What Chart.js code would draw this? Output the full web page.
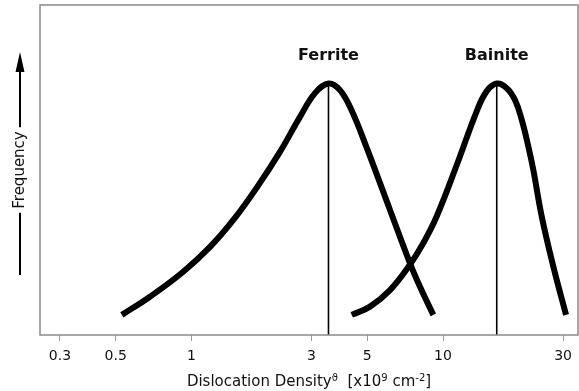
<!DOCTYPE html>
<html>
<head>
<meta charset="utf-8">
<script src="https://cdn.jsdelivr.net/npm/chart.js@4/dist/chart.umd.min.js"></script>
<style>
  html, body { margin: 0; padding: 0; background: #fff; }
  #wrap { width: 579px; height: 391px; }
</style>
</head>
<body>
<div id="wrap"><canvas id="c" width="579" height="391"></canvas></div>
<script>
// Dislocation density distributions (x in 10^9 cm^-2, y = relative frequency)
const tickValues = [0.3, 0.5, 1, 3, 5, 10, 30];

const ferriteX = [0.529, 0.684, 0.925, 1.185, 1.489, 1.838, 2.248, 2.701, 3.098, 3.505,
                  3.895, 4.347, 4.941, 6.155, 7.393, 8.100, 9.150];
const ferriteY = [6.1, 11.6, 19.1, 26.7, 35.5, 45.2, 55.5, 66.1, 73.3, 76.2,
                  74.2, 67.8, 57.3, 37.9, 21.7, 14.6, 6.1];

const bainiteX = [4.335, 5.125, 6.155, 7.278, 8.352, 9.441, 11.34, 13.61, 14.92, 16.35,
                  17.92, 19.33, 20.56, 21.84, 22.86, 24.69, 27.46, 30.84];
const bainiteY = [6.1, 8.6, 13.6, 20.6, 27.9, 36.0, 51.5, 67.8, 73.9, 76.2,
                  74.8, 71.2, 65.2, 57.1, 50.0, 35.9, 20.7, 6.1];

// Peak (mode) markers and their names
const peakNames = ['Ferrite', 'Bainite'];
const peakX = [3.505, 16.35];
const peakY = [76.2, 76.2];
const peakLabelY = 84.7;

const FAMILY = "'DejaVu Sans', 'Liberation Sans', sans-serif";
const INK = '#111';

const toPoints = (xs, ys) => xs.map((x, i) => ({ x, y: ys[i] }));

const curveStyle = {
  borderColor: '#000',
  borderWidth: 6,
  borderCapStyle: 'butt',
  borderJoinStyle: 'round',
  pointRadius: 0,
  fill: false,
  tension: 0.4
};
const markerStyle = {
  borderColor: '#000',
  borderWidth: 1.6,
  pointRadius: 0,
  fill: false,
  tension: 0
};

const datasets = [
  Object.assign({ label: 'Ferrite', data: toPoints(ferriteX, ferriteY) }, curveStyle),
  Object.assign({ label: 'Bainite', data: toPoints(bainiteX, bainiteY) }, curveStyle)
];
peakX.forEach((px, i) => {
  datasets.push(Object.assign({ label: peakNames[i] + ' mode', data: [{ x: px, y: 0 }, { x: px, y: peakY[i] }] }, markerStyle));
});

// Frame, peak names, axis-title decorations
const decorations = {
  id: 'decorations',
  afterDraw(chart) {
    const { ctx, chartArea: a, scales } = chart;
    ctx.save();

    // plot frame
    ctx.strokeStyle = '#8a8a8a';
    ctx.lineWidth = 1.5;
    ctx.strokeRect(a.left, a.top, a.right - a.left, a.bottom - a.top);

    // peak names
    ctx.fillStyle = INK;
    ctx.font = 'bold 16px ' + FAMILY;
    ctx.textAlign = 'center';
    ctx.textBaseline = 'middle';
    peakNames.forEach((name, i) => {
      ctx.fillText(name, scales.x.getPixelForValue(peakX[i]), scales.y.getPixelForValue(peakLabelY));
    });

    // arrow beside the "Frequency" title
    const ys = scales.y;
    const tOpt = ys.options.title;
    const tx = ys.left + (tOpt.font.size * 1.2) / 2 + tOpt.padding.top;
    const ty = (a.top + a.bottom) / 2;
    ctx.font = tOpt.font.size + 'px ' + FAMILY;
    const half = ctx.measureText(tOpt.text).width / 2 + 4;
    const tip = a.top + 47;
    const tail = a.bottom - 60;
    ctx.strokeStyle = '#000';
    ctx.lineWidth = 2;
    ctx.beginPath();
    ctx.moveTo(tx, tail); ctx.lineTo(tx, ty + half);
    ctx.moveTo(tx, ty - half); ctx.lineTo(tx, tip + 16);
    ctx.stroke();
    ctx.fillStyle = '#000';
    ctx.beginPath();
    ctx.moveTo(tx, tip);
    ctx.lineTo(tx - 4.5, tip + 20);
    ctx.lineTo(tx + 4.5, tip + 20);
    ctx.closePath();
    ctx.fill();

    // x-axis title with superscripts
    const parts = [
      ['Dislocation Density', 15, 0],
      ['\u03D1', 10, -5],
      ['  [x10', 15, 0],
      ['9', 10, -5],
      [' cm', 15, 0],
      ['-2', 10, -5],
      [']', 15, 0]
    ];
    let total = 0;
    parts.forEach(p => { ctx.font = p[1] + 'px ' + FAMILY; total += ctx.measureText(p[0]).width; });
    let x = (a.left + a.right) / 2 - total / 2;
    const by = 386;
    ctx.fillStyle = INK;
    ctx.textAlign = 'left';
    ctx.textBaseline = 'alphabetic';
    parts.forEach(p => {
      ctx.font = p[1] + 'px ' + FAMILY;
      ctx.fillText(p[0], x, by + p[2]);
      x += ctx.measureText(p[0]).width;
    });
    ctx.restore();
  }
};

new Chart(document.getElementById('c'), {
  type: 'line',
  data: { datasets },
  options: {
    responsive: false,
    animation: false,
    devicePixelRatio: 1,
    parsing: true,
    layout: { padding: { top: 5, right: 1, left: 0, bottom: 0 } },
    plugins: { legend: { display: false }, tooltip: { enabled: false } },
    scales: {
      x: {
        type: 'logarithmic',
        min: 0.25,
        max: 34.4,
        afterBuildTicks: s => { s.ticks = tickValues.map(v => ({ value: v })); },
        afterFit: s => { s.height = 56; },
        ticks: {
          autoSkip: false,
          maxRotation: 0,
          padding: 7,
          color: INK,
          font: { size: 14, family: FAMILY },
          callback: v => String(v)
        },
        grid: { display: true, drawOnChartArea: false, drawTicks: true, tickLength: 6, color: '#999', lineWidth: 1 },
        border: { display: false }
      },
      y: {
        min: 0,
        max: 100,
        afterFit: s => { s.width = 40; },
        ticks: { display: false },
        grid: { display: false },
        border: { display: false },
        title: {
          display: true,
          text: 'Frequency',
          color: INK,
          font: { size: 15, family: FAMILY },
          padding: { top: 11, bottom: 0 }
        }
      }
    }
  },
  plugins: [decorations]
});
</script>
</body>
</html>
